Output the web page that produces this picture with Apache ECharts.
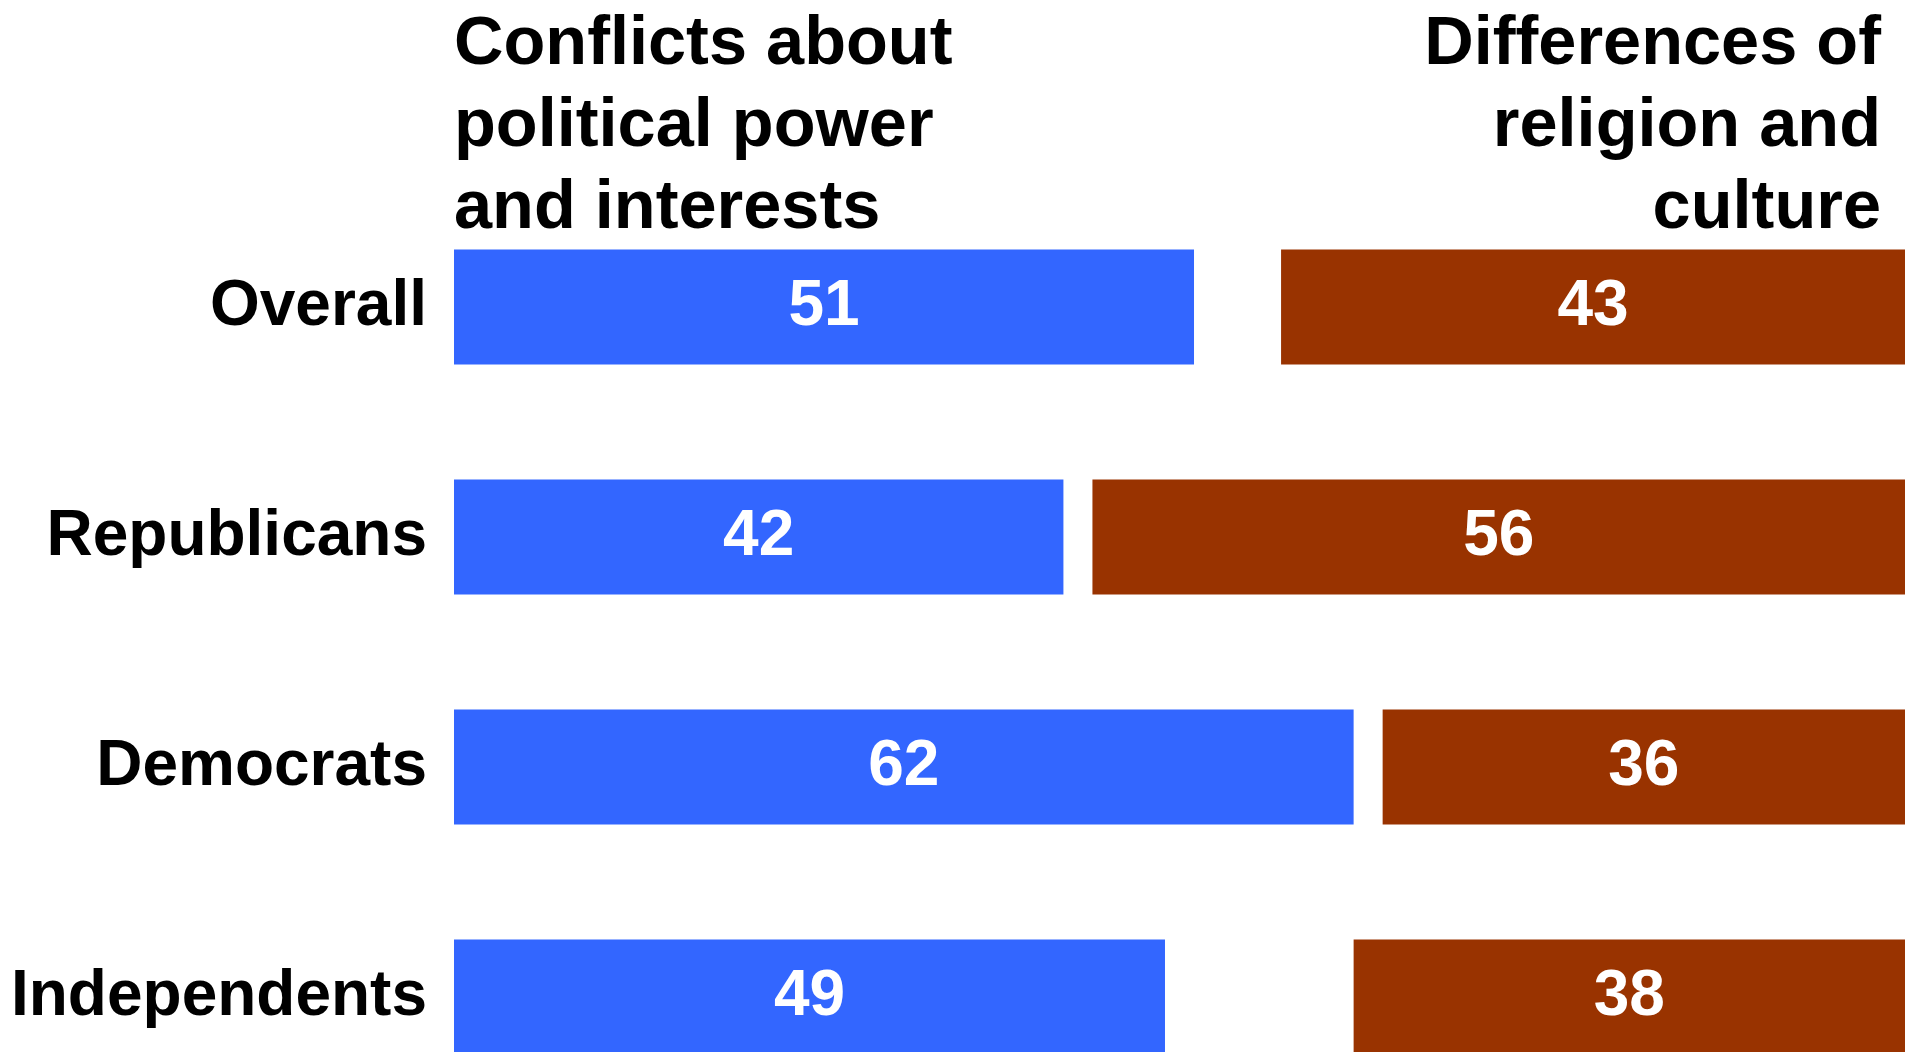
<!DOCTYPE html>
<html>
<head>
<meta charset="utf-8">
<script src="https://cdn.jsdelivr.net/npm/echarts@6/dist/echarts.min.js"></script>
<style>
html,body{margin:0;padding:0;background:#fff;height:1052px;overflow:hidden;}
#chart{width:1915px;height:1200px;}
</style>
</head>
<body>
<div id="chart"></div>
<script>
const categories = ['Overall', 'Republicans', 'Democrats', 'Independents'];
const politicalPower = [51, 42, 62, 49];
const religionCulture = [43, 56, 36, 38];
const leftTitle = 'Conflicts about\npolitical power\nand interests';
const rightTitle = 'Differences of\nreligion and\nculture';
const total = 100;

const gap = categories.map((c, i) => total - politicalPower[i] - religionCulture[i]);
const FONT = '"Liberation Sans", Arial, sans-serif';

const chart = echarts.init(document.getElementById('chart'), null, {renderer: 'canvas'});
const labelStyle = {
  show: true, position: 'inside', color: '#fff',
  fontFamily: FONT, fontWeight: 'bold', fontSize: 64
};
const titleStyle = {fontFamily: FONT, fontWeight: 'bold', fontSize: 68.5, lineHeight: 82, color: '#000'};
chart.setOption({
  animation: false,
  backgroundColor: '#fff',
  title: [
    {text: leftTitle, left: 454, top: 4, padding: 0, textStyle: titleStyle}
  ],
  graphic: [
    {type: 'text', x: 1881, y: 4, silent: true,
     style: {text: rightTitle, align: 'right', verticalAlign: 'top',
       fill: '#000', font: 'bold 68.5px ' + FONT, lineHeight: 82}}
  ],
  grid: {left: 454, right: 10, top: 192, height: 920, containLabel: false, outerBoundsMode: 'none'},
  xAxis: {type: 'value', min: 0, max: total, show: false},
  yAxis: {
    type: 'category', data: categories, inverse: true,
    axisLine: {show: false}, axisTick: {show: false}, splitLine: {show: false},
    axisLabel: {fontFamily: FONT, fontWeight: 'bold', fontSize: 64, color: '#000', margin: 27}
  },
  series: [
    {name: 'Conflicts about political power and interests', type: 'bar', stack: 's',
     data: politicalPower, barWidth: 115, itemStyle: {color: '#3366FF'}, label: labelStyle},
    {name: 'gap', type: 'bar', stack: 's', data: gap, itemStyle: {color: 'rgba(0,0,0,0)'},
     label: {show: false}, silent: true},
    {name: 'Differences of religion and culture', type: 'bar', stack: 's',
     data: religionCulture, itemStyle: {color: '#993300'}, label: labelStyle}
  ]
});
</script>
</body>
</html>
